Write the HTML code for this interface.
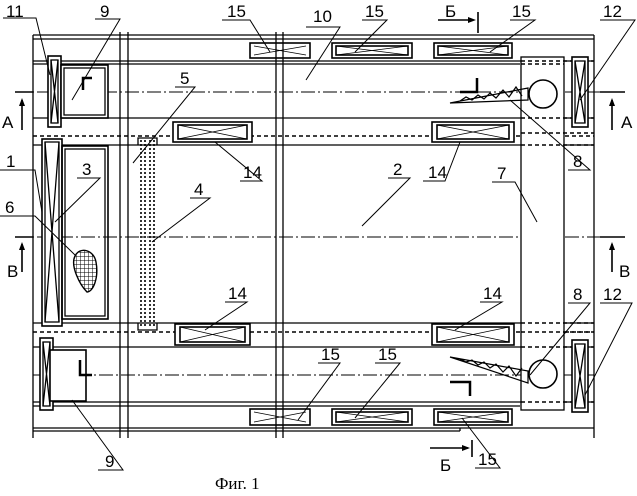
<!DOCTYPE html><html><head><style>body{margin:0;background:#fff}svg{display:block}text{font-family:"Liberation Sans",sans-serif;font-size:17px;fill:#000}</style></head><body>
<svg width="637" height="496" viewBox="0 0 637 496" xmlns="http://www.w3.org/2000/svg">
<defs><pattern id="h" width="4" height="4" patternUnits="userSpaceOnUse"><path d="M0 0H4M0 0V4" stroke="#000" stroke-width="1"/></pattern></defs>
<g stroke="#000" fill="none" stroke-width="1.3">
<line x1="33" y1="35" x2="594" y2="35"/><line x1="33" y1="39" x2="594" y2="39"/>
<line x1="33" y1="61" x2="594" y2="61"/><line x1="33" y1="64" x2="520" y2="64"/>
<line x1="33" y1="118" x2="594" y2="118"/>
<line x1="33" y1="136" x2="594" y2="136" stroke-dasharray="4,3" stroke-width="1.6"/>
<line x1="33" y1="145" x2="594" y2="145"/>
<line x1="33" y1="323" x2="594" y2="323"/>
<line x1="33" y1="332" x2="594" y2="332" stroke-dasharray="4,3" stroke-width="1.6"/>
<line x1="33" y1="347" x2="594" y2="347"/>
<line x1="33" y1="402" x2="594" y2="402"/><line x1="33" y1="406" x2="520" y2="406"/>
<line x1="33" y1="428" x2="594" y2="428"/><line x1="33" y1="431" x2="460" y2="431"/><line x1="460" y1="428" x2="460" y2="431"/>
<line x1="33" y1="35" x2="33" y2="438"/><line x1="594" y1="35" x2="594" y2="438"/>
<line x1="120" y1="32" x2="120" y2="438"/><line x1="128" y1="32" x2="128" y2="438"/>
<g stroke-width="0.9" stroke-dasharray="14,3,2,3"><line x1="15" y1="92" x2="625" y2="92"/><line x1="15" y1="237" x2="625" y2="237"/><line x1="33" y1="375" x2="594" y2="375"/></g>
<rect x="521" y="57" width="43" height="353" fill="#fff"/>
<g stroke-dasharray="4,3" stroke-width="1.6"><line x1="521" y1="61" x2="594" y2="61"/><line x1="521" y1="64" x2="564" y2="64"/><line x1="521" y1="118" x2="594" y2="118"/><line x1="521" y1="133" x2="594" y2="133"/><line x1="521" y1="145" x2="594" y2="145"/><line x1="521" y1="323" x2="594" y2="323"/><line x1="521" y1="332" x2="594" y2="332"/><line x1="521" y1="347" x2="594" y2="347"/><line x1="521" y1="402" x2="594" y2="402"/></g>
<circle cx="543" cy="94" r="14" fill="#fff" stroke-width="1.6"/><circle cx="543" cy="374" r="14" fill="#fff" stroke-width="1.6"/>
<path d="M450 103 L528 88 L528 100 Z M460 101 l6 -4 l6 3 l6 -5 l6 4 l6 -6 l6 5 l7 -8 l6 7 l7 -10 l6 9" stroke-width="1.2"/>
<path d="M450 357 L528 371 L528 383 Z M460 359 l6 3 l6 -2 l6 5 l6 -3 l6 6 l6 -4 l7 8 l6 -6 l7 10 l6 -8" stroke-width="1.2"/>
<rect x="572" y="57" width="16" height="70" fill="#fff" stroke-width="1.6"/><rect x="575" y="61" width="10" height="62"/><path d="M575 61L585 123M585 61L575 123"/>
<rect x="572" y="340" width="16" height="72" fill="#fff" stroke-width="1.6"/><rect x="575" y="344" width="10" height="64"/><path d="M575 344L585 408M585 344L575 408"/>
<rect x="48" y="56" width="13" height="71" fill="#fff" stroke-width="1.6"/><rect x="51" y="60" width="7" height="63"/><path d="M51 60L58 123M58 60L51 123"/>
<rect x="40" y="338" width="13" height="72" fill="#fff" stroke-width="1.6"/><rect x="43" y="342" width="7" height="64"/><path d="M43 342L50 406M50 342L43 406"/>
<rect x="61" y="65" width="47" height="53" fill="#fff" stroke-width="1.6"/><rect x="64" y="68" width="41" height="47"/>
<rect x="50" y="350" width="36" height="51" fill="#fff" stroke-width="1.6"/>
<path d="M83 90V78H92" stroke-width="2.5"/><path d="M80 360V375H92" stroke-width="2.5"/>
<path d="M460 92H477V78" stroke-width="2.5"/><path d="M450 382H470V396" stroke-width="2.5"/>
<rect x="42" y="139" width="20" height="187" fill="#fff" stroke-width="1.6"/><rect x="45" y="142" width="14" height="180"/><path d="M45 142L59 322M59 142L45 322"/>
<rect x="62" y="146" width="46" height="173" stroke-width="1.6"/><rect x="65" y="149" width="40" height="167"/>
<path d="M75 256 C80 246 94 250 96 262 C99 278 93 292 87 292 C80 285 70 266 75 256Z" fill="url(#h)" stroke-width="1.4"/>
<g stroke-dasharray="2,2" stroke-width="1.6"><line x1="141" y1="140" x2="141" y2="328"/><line x1="145" y1="140" x2="145" y2="328"/><line x1="150" y1="140" x2="150" y2="328"/><line x1="154" y1="140" x2="154" y2="328"/></g>
<path d="M138 145V138H157V145M138 323V330H157V323"/>
<g stroke-width="1.6"><rect x="173" y="122" width="79" height="20" fill="#fff"/><rect x="178" y="125" width="69" height="14"/><path d="M178 125L247 139M247 125L178 139" stroke-width="0.8"/>
<rect x="432" y="122" width="82" height="20" fill="#fff"/><rect x="437" y="125" width="72" height="14"/><path d="M437 125L509 139M509 125L437 139" stroke-width="0.8"/>
<rect x="175" y="324" width="75" height="21" fill="#fff"/><rect x="180" y="327" width="65" height="15"/><path d="M180 327L245 342M245 327L180 342" stroke-width="0.8"/>
<rect x="432" y="324" width="82" height="21" fill="#fff"/><rect x="437" y="327" width="72" height="15"/><path d="M437 327L509 342M509 327L437 342" stroke-width="0.8"/>
<rect x="250" y="43" width="60" height="15" fill="#fff"/><path d="M254 46L306 55M306 46L254 55" stroke-width="0.8"/>
<rect x="332" y="43" width="80" height="15" fill="#fff"/><rect x="336" y="46" width="72" height="9"/><path d="M336 46L408 55M408 46L336 55" stroke-width="0.8"/>
<rect x="434" y="43" width="78" height="15" fill="#fff"/><rect x="438" y="46" width="70" height="9"/><path d="M438 46L508 55M508 46L438 55" stroke-width="0.8"/>
<rect x="250" y="409" width="60" height="16" fill="#fff"/><path d="M254 412L306 422M306 412L254 422" stroke-width="0.8"/>
<rect x="332" y="409" width="80" height="16" fill="#fff"/><rect x="336" y="412" width="72" height="10"/><path d="M336 412L408 422M408 412L336 422" stroke-width="0.8"/>
<rect x="434" y="409" width="78" height="16" fill="#fff"/><rect x="438" y="412" width="70" height="10"/><path d="M438 412L508 422M508 412L438 422" stroke-width="0.8"/></g>
<line x1="276" y1="32" x2="276" y2="438"/><line x1="283" y1="32" x2="283" y2="438"/>
<g stroke-width="1.6"><path d="M15 92H33M22 100V130M15 237H33M22 244V272M600 92H625M612 100V130M600 237H625M612 244V272"/>
<path d="M438 20H472M478 12V33M430 448H468M472 440V457"/></g>
<g fill="#000" stroke="none"><path d="M22 98l-3 8h6zM22 242l-3 8h6zM612 98l-3 8h6zM612 242l-3 8h6zM476 20l-8 -3v6zM470 448l-8 -3v6z"/></g>
<g stroke-width="1"><path d="M3 18H36L50 75M95 19H120L72 100M222 20H250L270 52M306 27H340L306 80M362 20H387L355 52M510 20H535L490 52M600 20H635L580 100M175 87H195L133 163M240 181H262L215 142M423 181H445L460 142M0 170H35L42 212M77 178H100L55 222M0 216H35L75 255M190 198H210L152 242M388 178H410L362 226M492 182H515L537 222M568 170H590L510 100M225 302H247L205 330M480 302H502L455 330M568 303H590L530 375M600 303H632L585 395M318 363H340L298 420M375 363H400L355 418M475 468H500L462 418M98 470H123L72 400"/></g>
</g>
<g>
<text x="6" y="17">11</text><text x="100" y="17">9</text><text x="227" y="17">15</text><text x="313" y="22">10</text><text x="365" y="17">15</text><text x="445" y="17">Б</text><text x="512" y="17">15</text><text x="603" y="17">12</text>
<text x="180" y="84">5</text><text x="2" y="128">А</text><text x="621" y="128">А</text><text x="243" y="178">14</text><text x="428" y="178">14</text><text x="6" y="167">1</text><text x="82" y="175">3</text><text x="5" y="213">6</text><text x="194" y="195">4</text><text x="393" y="175">2</text><text x="497" y="179">7</text><text x="573" y="167">8</text>
<text x="7" y="277">В</text><text x="619" y="277">В</text><text x="228" y="299">14</text><text x="483" y="299">14</text><text x="573" y="300">8</text><text x="603" y="300">12</text>
<text x="321" y="360">15</text><text x="378" y="360">15</text><text x="440" y="471">Б</text><text x="478" y="465">15</text><text x="105" y="467">9</text>
<text x="215" y="489" style="font-family:'Liberation Serif',serif;font-size:17px">Фиг. 1</text>
</g>
</svg></body></html>
